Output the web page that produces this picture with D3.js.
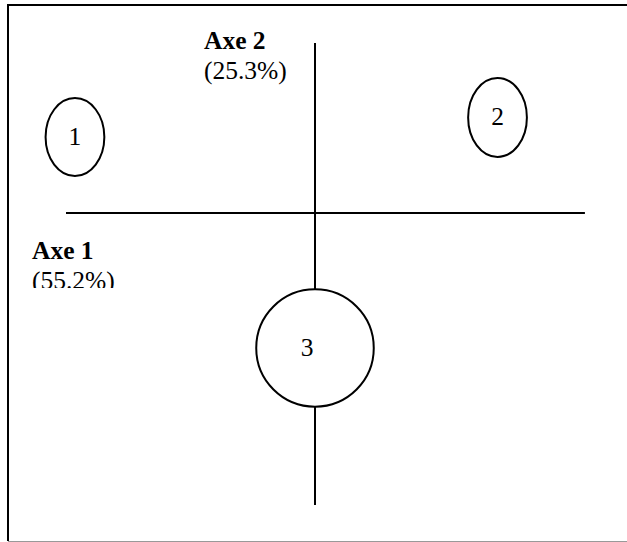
<!DOCTYPE html>
<html>
<head>
<meta charset="utf-8">
<script src="https://cdn.jsdelivr.net/npm/d3@7"></script>
<style>
  body { margin: 0; background: #fff; overflow: hidden; }
  svg { display: block; }
  .frame { fill: none; stroke: #000; stroke-width: 2; }
  .frame-bottom { stroke: #999; stroke-width: 1; }
  .axis-line { stroke: #000; stroke-width: 2; }
  .cluster { fill: #fff; stroke: #000; stroke-width: 2; }
  text { font-family: "Liberation Serif", "Times New Roman", serif; font-size: 25.5px; fill: #000; }
  .axis-name { font-weight: bold; }
</style>
</head>
<body>
<script>

// factor plane data

let clusterLabels = ["1", "2", "3"];
let clusterAxis1 = [-0.964, 0.733, 0.0];
let clusterAxis2 = [0.447, 0.562, -0.794];
let clusterSpread1 = [0.118, 0.118, 0.236];
let clusterSpread2 = [0.229, 0.232, 0.345];

let axisNames = ["Axe 1", "Axe 2"];
let axisInertia = ["(55.2%)", "(25.3%)"];
let axis1Extent = [-1.0, 1.084];
let axis2Extent = [-1.718, 1.0];

// page settings

let width = 627;
let height = 542;

let svg = d3.select("body").append("svg")
    .attr("width", width)
    .attr("height", height);

let x = d3.scaleLinear().domain([-1, 1]).range([66, 564]);
let y = d3.scaleLinear().domain([-1, 1]).range([383, 43]);

// outer frame, its right side falls outside the page
svg.append("path")
    .attr("class", "frame")
    .attr("d", `M${width},5H8V541`);

svg.append("line")
    .attr("class", "frame-bottom")
    .attr("x1", 8)
    .attr("x2", width)
    .attr("y1", 541.5)
    .attr("y2", 541.5);

// AXES

// axis 1 (horizontal)
svg.append("line")
    .attr("class", "axis-line")
    .attr("x1", x(axis1Extent[0]))
    .attr("x2", x(axis1Extent[1]))
    .attr("y1", y(0))
    .attr("y2", y(0));

// axis 2 (vertical)
svg.append("line")
    .attr("class", "axis-line")
    .attr("x1", x(0))
    .attr("x2", x(0))
    .attr("y1", y(axis2Extent[1]))
    .attr("y2", y(axis2Extent[0]));

// CLUSTERS

let clusters = svg.append("g")
  .selectAll("g")
  .data(clusterLabels)
  .join("g")
    .attr("transform", (d, i) => `translate(${x(clusterAxis1[i])},${y(clusterAxis2[i])})`);

clusters.append("ellipse")
    .attr("class", "cluster")
    .attr("rx", (d, i) => x(clusterSpread1[i]) - x(0))
    .attr("ry", (d, i) => y(0) - y(clusterSpread2[i]));

clusters.append("text")
    .attr("text-anchor", "middle")
    .attr("dx", (d, i) => i === 2 ? -8 : 0)
    .attr("dy", 8)
    .text(d => d);

// AXIS NAMES

// axis 2 name, above the left of the vertical line
let axis2Label = svg.append("text")
    .attr("x", 204)
    .attr("y", 49);

axis2Label.append("tspan")
    .attr("class", "axis-name")
    .text(axisNames[1]);

axis2Label.append("tspan")
    .attr("x", 204)
    .attr("dy", 30)
    .text(axisInertia[1]);

// axis 1 name, the text box cuts the second line
svg.append("clipPath")
    .attr("id", "axis1-box")
  .append("rect")
    .attr("x", 0)
    .attr("y", 225)
    .attr("width", 200)
    .attr("height", 63);

let axis1Label = svg.append("text")
    .attr("clip-path", "url(#axis1-box)")
    .attr("x", 32)
    .attr("y", 259);

axis1Label.append("tspan")
    .attr("class", "axis-name")
    .text(axisNames[0]);

axis1Label.append("tspan")
    .attr("x", 32)
    .attr("dy", 30)
    .text(axisInertia[0]);

</script>
</body>
</html>
